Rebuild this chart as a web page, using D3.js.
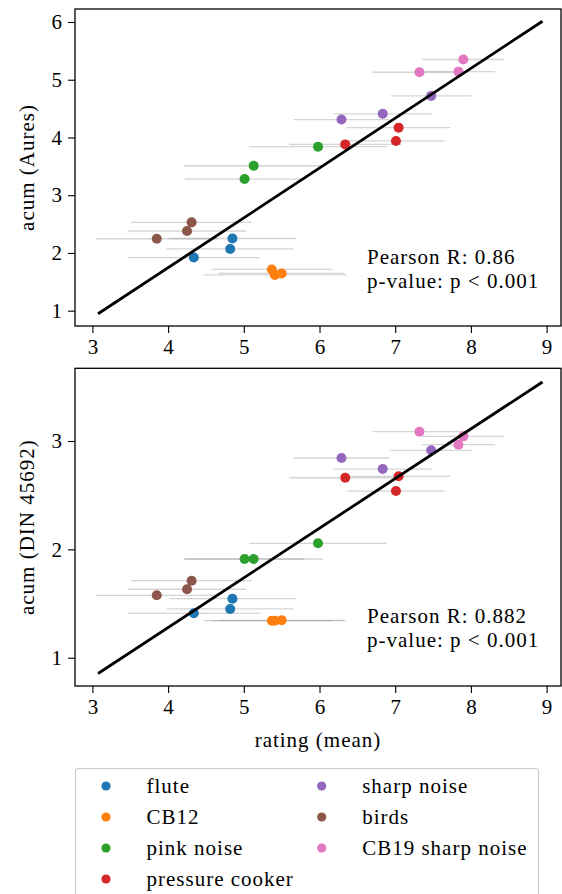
<!DOCTYPE html>
<html>
<head>
<meta charset="utf-8">
<script src="https://cdn.jsdelivr.net/npm/d3@7"></script>
<style>
  html, body { margin: 0; padding: 0; background: #fff; }
  svg text { font-family: "Liberation Serif", "DejaVu Serif", serif; fill: #000; }
  .wide { letter-spacing: 1px; }
</style>
</head>
<body>
<svg id="chart" width="562" height="894"></svg>
<script>
// Sound categories and their colours
const categories = ["flute", "CB12", "pink noise", "pressure cooker", "sharp noise", "birds", "CB19 sharp noise"];
const colors = ["#1f77b4", "#ff7f0e", "#2ca02c", "#d62728", "#9467bd", "#8c564b", "#e377c2"];

// Mean rating per stimulus (three stimuli per category) and its spread
const ratingMean = [
  [4.34, 4.82, 4.85],
  [5.37, 5.41, 5.50],
  [5.01, 5.13, 5.98],
  [6.34, 7.01, 7.045],
  [6.29, 6.835, 7.475],
  [3.85, 4.25, 4.31],
  [7.32, 7.835, 7.90]
];
const ratingStd = [
  [0.87, 0.84, 0.84],
  [0.80, 0.94, 0.83],
  [0.79, 0.92, 0.91],
  [0.74, 0.64, 0.685],
  [0.63, 0.65, 0.535],
  [0.80, 0.78, 0.80],
  [0.62, 0.485, 0.545]
];
// Sharpness (acum) per stimulus, Aures model
const acumAures = [
  [1.92, 2.07, 2.25],
  [1.715, 1.62, 1.645],
  [3.28, 3.51, 3.84],
  [3.88, 3.94, 4.17],
  [4.31, 4.41, 4.72],
  [2.246, 2.38, 2.53],
  [5.13, 5.14, 5.35]
];
// Sharpness (acum) per stimulus, DIN 45692
const acumDin = [
  [1.41, 1.45, 1.545],
  [1.342, 1.342, 1.345],
  [1.911, 1.911, 2.056],
  [2.661, 2.538, 2.674],
  [2.843, 2.741, 2.914],
  [1.576, 1.632, 1.711],
  [3.086, 2.966, 3.043]
];

// Linear fits and correlation results
const fitRange = [3.09, 8.93];
const fitAures = { slope: 0.863, intercept: -1.707 };
const fitDin = { slope: 0.4582, intercept: -0.554 };
const pearsonAures = "0.86";
const pearsonDin = "0.882";

const xTicks = [3, 4, 5, 6, 7, 8, 9];
const yTicksAures = [1, 2, 3, 4, 5, 6];
const yTicksDin = [1, 2, 3];

const svg = d3.select("#chart");
const left = 75, right = 561;
const fontSize = 21;

function panel(cfg) {
  const x = d3.scaleLinear().domain([2.77, 9.19]).range([left, right]);
  const y = d3.scaleLinear().domain(cfg.yDomain).range([cfg.bottom, cfg.top]);
  const g = svg.append("g");

  // error bars
  categories.forEach((c, ci) => {
    ratingMean[ci].forEach((m, i) => {
      g.append("line")
        .attr("x1", x(m - ratingStd[ci][i])).attr("x2", x(m + ratingStd[ci][i]))
        .attr("y1", y(cfg.values[ci][i])).attr("y2", y(cfg.values[ci][i]))
        .attr("stroke", "#9a9a9a").attr("stroke-opacity", 0.42).attr("stroke-width", 1.3);
    });
  });
  // points
  categories.forEach((c, ci) => {
    ratingMean[ci].forEach((m, i) => {
      g.append("circle")
        .attr("cx", x(m)).attr("cy", y(cfg.values[ci][i])).attr("r", 5)
        .attr("fill", colors[ci]);
    });
  });
  // regression line
  g.append("line")
    .attr("x1", x(fitRange[0])).attr("x2", x(fitRange[1]))
    .attr("y1", y(cfg.fit.slope * fitRange[0] + cfg.fit.intercept))
    .attr("y2", y(cfg.fit.slope * fitRange[1] + cfg.fit.intercept))
    .attr("stroke", "#000").attr("stroke-width", 2.8).attr("stroke-linecap", "square");

  // frame
  g.append("rect")
    .attr("x", left).attr("y", cfg.top).attr("width", right - left).attr("height", cfg.bottom - cfg.top)
    .attr("fill", "none").attr("stroke", "#000").attr("stroke-width", 1.3);

  // axes
  const xa = g.append("g").attr("transform", `translate(0,${cfg.bottom})`)
    .call(d3.axisBottom(x).tickValues(xTicks).tickSize(7).tickPadding(6).tickFormat(d3.format("d")));
  const ya = g.append("g").attr("transform", `translate(${left},0)`)
    .call(d3.axisLeft(y).tickValues(cfg.yTicks).tickSize(7).tickPadding(6).tickFormat(d3.format("d")));
  [xa, ya].forEach(a => {
    a.select(".domain").remove();
    a.selectAll(".tick line").attr("stroke", "#000").attr("stroke-width", 1.1);
    a.selectAll(".tick text").style("font-size", fontSize + "px").style("font-family", "Liberation Serif");
  });

  // y label
  g.append("text").attr("class", "wide")
    .attr("transform", `translate(34,${(cfg.top + cfg.bottom) / 2}) rotate(-90)`)
    .attr("text-anchor", "middle").style("font-size", fontSize + "px")
    .text(cfg.ylabel);

  // statistics annotation
  g.append("text").attr("class", "wide").attr("x", 367).attr("y", cfg.top + 255)
    .style("font-size", fontSize + "px").text("Pearson R: " + cfg.r);
  g.append("text").attr("class", "wide").attr("x", 367).attr("y", cfg.top + 279)
    .style("font-size", fontSize + "px").text("p-value: p < 0.001");

  return x;
}

panel({ top: 9, bottom: 326, yDomain: [0.735, 6.225], yTicks: yTicksAures,
  values: acumAures, fit: fitAures, ylabel: "acum (Aures)", r: pearsonAures });
panel({ top: 368.3, bottom: 686, yDomain: [0.739, 3.671], yTicks: yTicksDin,
  values: acumDin, fit: fitDin, ylabel: "acum (DIN 45692)", r: pearsonDin });

// x label
svg.append("text").attr("class", "wide").attr("x", (left + right) / 2).attr("y", 747)
  .attr("text-anchor", "middle").style("font-size", fontSize + "px").text("rating (mean)");

// legend
const lg = svg.append("g");
lg.append("rect").attr("x", 75.5).attr("y", 768.5).attr("width", 463).attr("height", 140)
  .attr("rx", 3).attr("fill", "#fff").attr("stroke", "#cccccc").attr("stroke-width", 1.2);
categories.forEach((c, i) => {
  const col = i < 4 ? 0 : 1;
  const row = i < 4 ? i : i - 4;
  const mx = col === 0 ? 106 : 321.7;
  const my = 786 + row * 31;
  lg.append("circle").attr("cx", mx).attr("cy", my).attr("r", 4.6).attr("fill", colors[i]);
  lg.append("text").attr("class", "wide").attr("x", mx + 40.5).attr("y", my + 6.5)
    .style("font-size", fontSize + "px").text(c);
});
</script>
</body>
</html>
